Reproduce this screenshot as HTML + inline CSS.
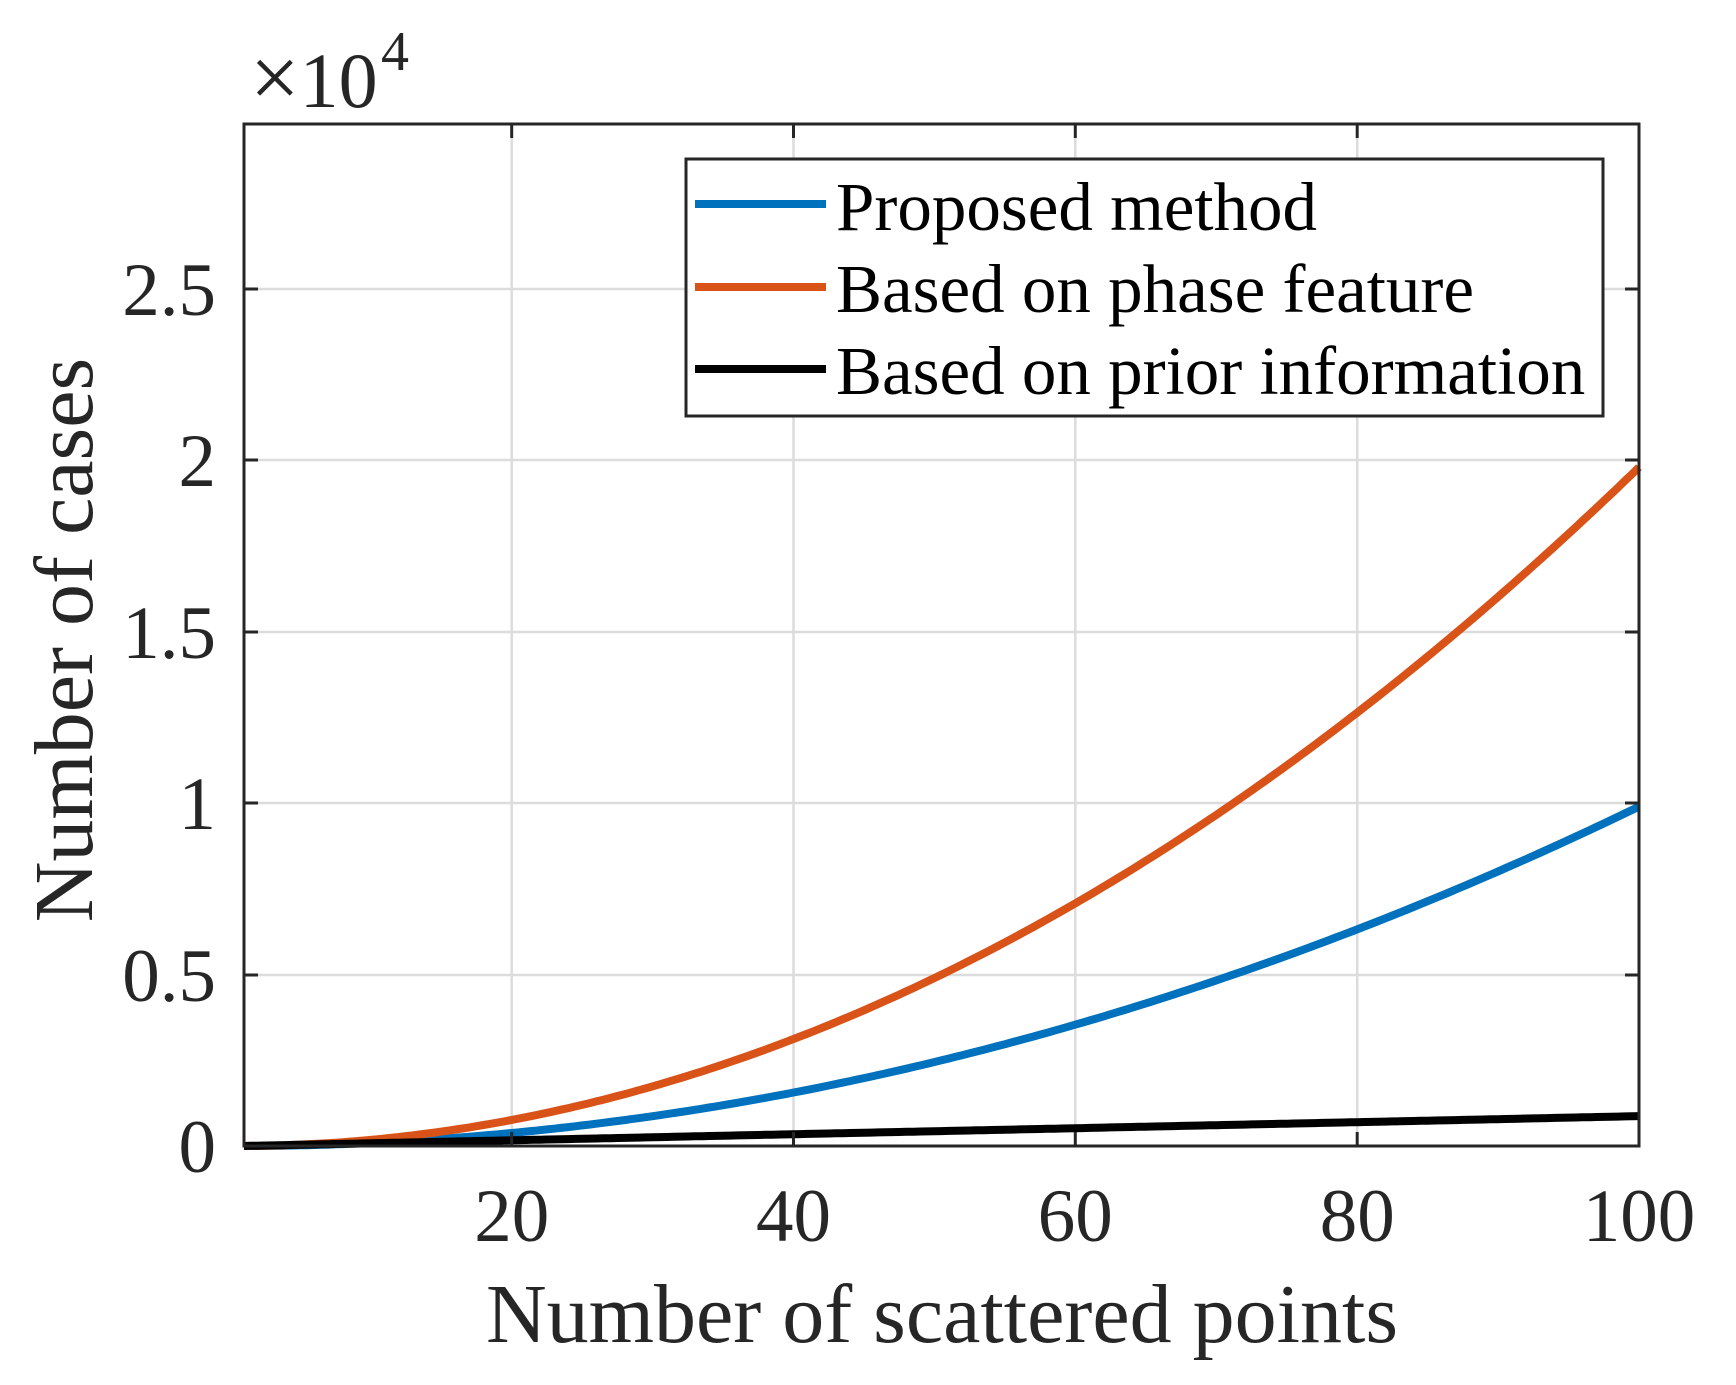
<!DOCTYPE html>
<html><head><meta charset="utf-8"><style>
html,body{margin:0;padding:0;background:#fff;}
svg{display:block;}
text{font-family:"Liberation Serif",serif;fill:#262626;}
</style></head><body>
<svg id="s" width="1736" height="1385" xmlns="http://www.w3.org/2000/svg">
<g stroke="#dcdcdc" stroke-width="2.5">
<line x1="511.7" y1="124" x2="511.7" y2="1146"/>
<line x1="793.5" y1="124" x2="793.5" y2="1146"/>
<line x1="1075.3" y1="124" x2="1075.3" y2="1146"/>
<line x1="1357.2" y1="124" x2="1357.2" y2="1146"/>
<line x1="244" y1="975" x2="1639" y2="975"/>
<line x1="244" y1="803" x2="1639" y2="803"/>
<line x1="244" y1="632" x2="1639" y2="632"/>
<line x1="244" y1="460" x2="1639" y2="460"/>
<line x1="244" y1="289" x2="1639" y2="289"/>
</g>
<g id="curves" fill="none" stroke-width="8" stroke-linejoin="round"></g>
<g stroke="#262626" stroke-width="3" fill="none">
<rect x="244" y="124" width="1395" height="1022"/>
<path d="M511.7 1146v-14M793.5 1146v-14M1075.3 1146v-14M1357.2 1146v-14M511.7 124v14M793.5 124v14M1075.3 124v14M1357.2 124v14M244 975h14M244 803h14M244 632h14M244 460h14M244 289h14M1639 975h-14M1639 803h-14M1639 632h-14M1639 460h-14M1639 289h-14"/>
</g>
<g font-size="75" text-anchor="end">
<text x="216" y="1172">0</text>
<text x="216" y="1001">0.5</text>
<text x="216" y="829">1</text>
<text x="216" y="658">1.5</text>
<text x="216" y="486">2</text>
<text x="216" y="315">2.5</text>
</g>
<g font-size="75" text-anchor="middle">
<text x="511.7" y="1241">20</text>
<text x="793.5" y="1241">40</text>
<text x="1075.3" y="1241">60</text>
<text x="1357.2" y="1241">80</text>
<text x="1639" y="1241">100</text>
</g>
<text x="250" y="107" font-size="78"><tspan font-size="88">×</tspan>10</text>
<text x="381" y="70" font-size="56">4</text>
<text x="942" y="1342" font-size="84" text-anchor="middle">Number of scattered points</text>
<text transform="translate(92,640) rotate(-90)" font-size="84" text-anchor="middle">Number of cases</text>
<rect x="686" y="159" width="917" height="257" fill="#fff" stroke="#262626" stroke-width="3"/>
<line x1="695" y1="204" x2="826" y2="204" stroke="#0072bd" stroke-width="8"/>
<line x1="695" y1="287" x2="826" y2="287" stroke="#d95319" stroke-width="8"/>
<line x1="695" y1="369" x2="826" y2="369" stroke="#000" stroke-width="8"/>
<g font-size="69">
<text x="836" y="230" style="fill:#000">Proposed method</text>
<text x="836" y="312" style="fill:#000">Based on phase feature</text>
<text x="836" y="394" style="fill:#000">Based on prior information</text>
</g>
</svg>
<script>
(function(){
var g=document.getElementById('curves');
function X(n){return 244+(n-1)*1395/99;}
function Y(v){return 1146-v*342.8/10000;}
var fs=[[function(n){return n*(n-1);},'#0072bd'],[function(n){return 2*n*(n-1);},'#d95319'],[function(n){return 8.8*(n-1);},'#000']];
fs.forEach(function(f){
var d='';for(var n=1;n<=100;n+=0.5){d+=(n==1?'M':'L')+X(n).toFixed(1)+' '+Y(f[0](n)).toFixed(1);}
var p=document.createElementNS('http://www.w3.org/2000/svg','path');
p.setAttribute('d',d);p.setAttribute('stroke',f[1]);g.appendChild(p);
});
})();
</script>
</body></html>
